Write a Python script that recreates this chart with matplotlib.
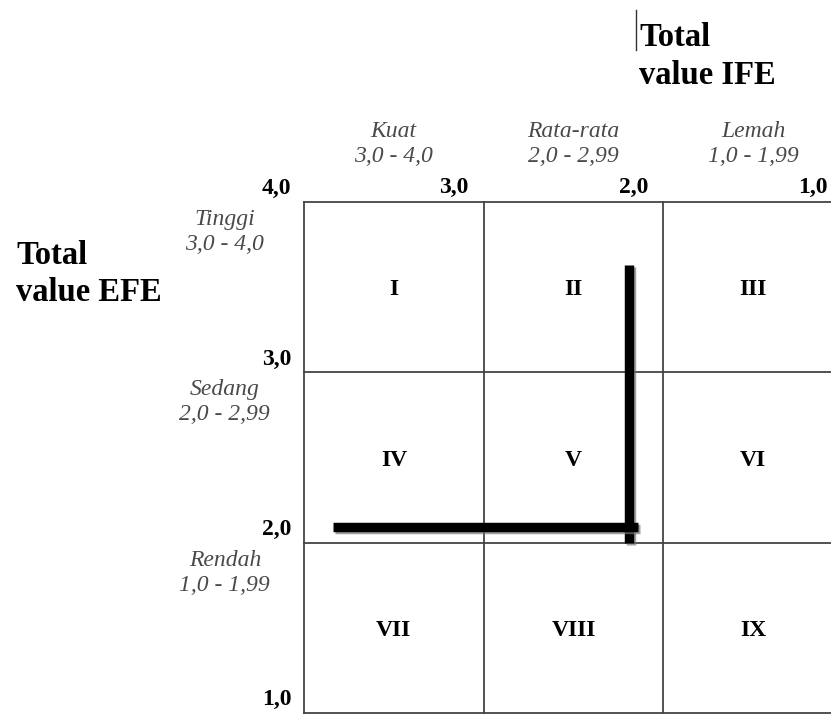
import matplotlib
matplotlib.use('Agg')
import matplotlib.pyplot as plt
import matplotlib.patheffects as pe
from matplotlib.lines import Line2D

# IE matrix data
ife_bounds = [4.0, 3.0, 2.0, 1.0]
efe_bounds = [4.0, 3.0, 2.0, 1.0]
bound_labels = ['4,0', '3,0', '2,0', '1,0']
col_names = ['Kuat', 'Rata-rata', 'Lemah']
col_ranges = ['3,0 - 4,0', '2,0 - 2,99', '1,0 - 1,99']
row_names = ['Tinggi', 'Sedang', 'Rendah']
row_ranges = ['3,0 - 4,0', '2,0 - 2,99', '1,0 - 1,99']
cells = [['I', 'II', 'III'],
         ['IV', 'V', 'VI'],
         ['VII', 'VIII', 'IX']]

ife_score = 2.19
efe_score = 2.09
ife_line_start = 3.84   # horizontal line drawn from here to the score
ife_line_end = 2.14
efe_line_top = 3.63     # vertical line drawn from here down to
efe_line_bottom = 2.0

serif = 'Liberation Serif'
W, H = 831, 715
fig = plt.figure(figsize=(W / 100, H / 100), dpi=100)
ax = fig.add_axes([304 / W, 2 / H, 539 / W, 511 / H])
ax.set_xlim(4, 1)
ax.set_ylim(1, 4)
ax.axis('off')

grid_col = '#444444'
for b in ife_bounds:
    ax.plot([b, b], [1, 4], color=grid_col, lw=1.3, clip_on=False)
for b in efe_bounds:
    ax.plot([4, 1], [b, b], color=grid_col, lw=1.3, clip_on=False)

# tick labels
for b, lab in zip(efe_bounds, bound_labels):
    ax.annotate(lab, (4, b), xytext=(-9, 2), textcoords='offset points',
                ha='right', va='bottom', fontsize=17, fontweight='bold',
                family=serif)
for b, lab in zip(ife_bounds[1:], bound_labels[1:]):
    ax.annotate(lab, (b, 4), xytext=(-11, 3), textcoords='offset points',
                ha='right', va='bottom', fontsize=17, fontweight='bold',
                family=serif)

# column headers
for i in range(3):
    xc = ife_bounds[i] - 0.5
    ax.annotate(col_names[i] + '\n' + col_ranges[i], (xc, 4), xytext=(0, 25),
                textcoords='offset points', ha='center', va='bottom',
                fontsize=17, fontstyle='italic', color='#4a4a4a',
                family=serif, linespacing=1.25)

# row headers
for j in range(3):
    ax.annotate(row_names[j] + '\n' + row_ranges[j], (4, efe_bounds[j]),
                xytext=(-57, -5), textcoords='offset points', ha='center',
                va='top', fontsize=17, fontstyle='italic', color='#4a4a4a',
                family=serif, linespacing=1.25)

# cell labels
for j in range(3):
    for i in range(3):
        ax.annotate(cells[j][i], (ife_bounds[i] - 0.5, efe_bounds[j] - 0.5),
                    xytext=(0, -2), textcoords='offset points',
                    ha='center', va='center', fontsize=17, fontweight='bold',
                    family=serif)

# position lines
shadow = [pe.SimpleLineShadow(offset=(1.5, -1.5), shadow_color='#777777', alpha=0.7),
          pe.Normal()]
ax.plot([ife_score, ife_score], [efe_line_bottom, efe_line_top], color='black',
        lw=6.8, solid_capstyle='butt', path_effects=shadow)
ax.plot([ife_line_start, ife_line_end], [efe_score, efe_score], color='black',
        lw=6.8, solid_capstyle='butt', path_effects=shadow)

# axis titles
fig.text(639 / W, 1 - 22 / H, 'Total\nvalue IFE', ha='left', va='top',
         fontsize=23.5, fontweight='bold', family=serif, linespacing=1.3)
fig.text(16 / W, 1 - 240 / H, 'Total\nvalue EFE', ha='left', va='top',
         fontsize=23.5, fontweight='bold', family=serif, linespacing=1.25)
fig.add_artist(Line2D([636 / W, 636 / W], [1 - 10 / H, 1 - 50 / H],
                      color='#333333', lw=1))

fig.savefig('out.png', dpi=100, facecolor='white')
